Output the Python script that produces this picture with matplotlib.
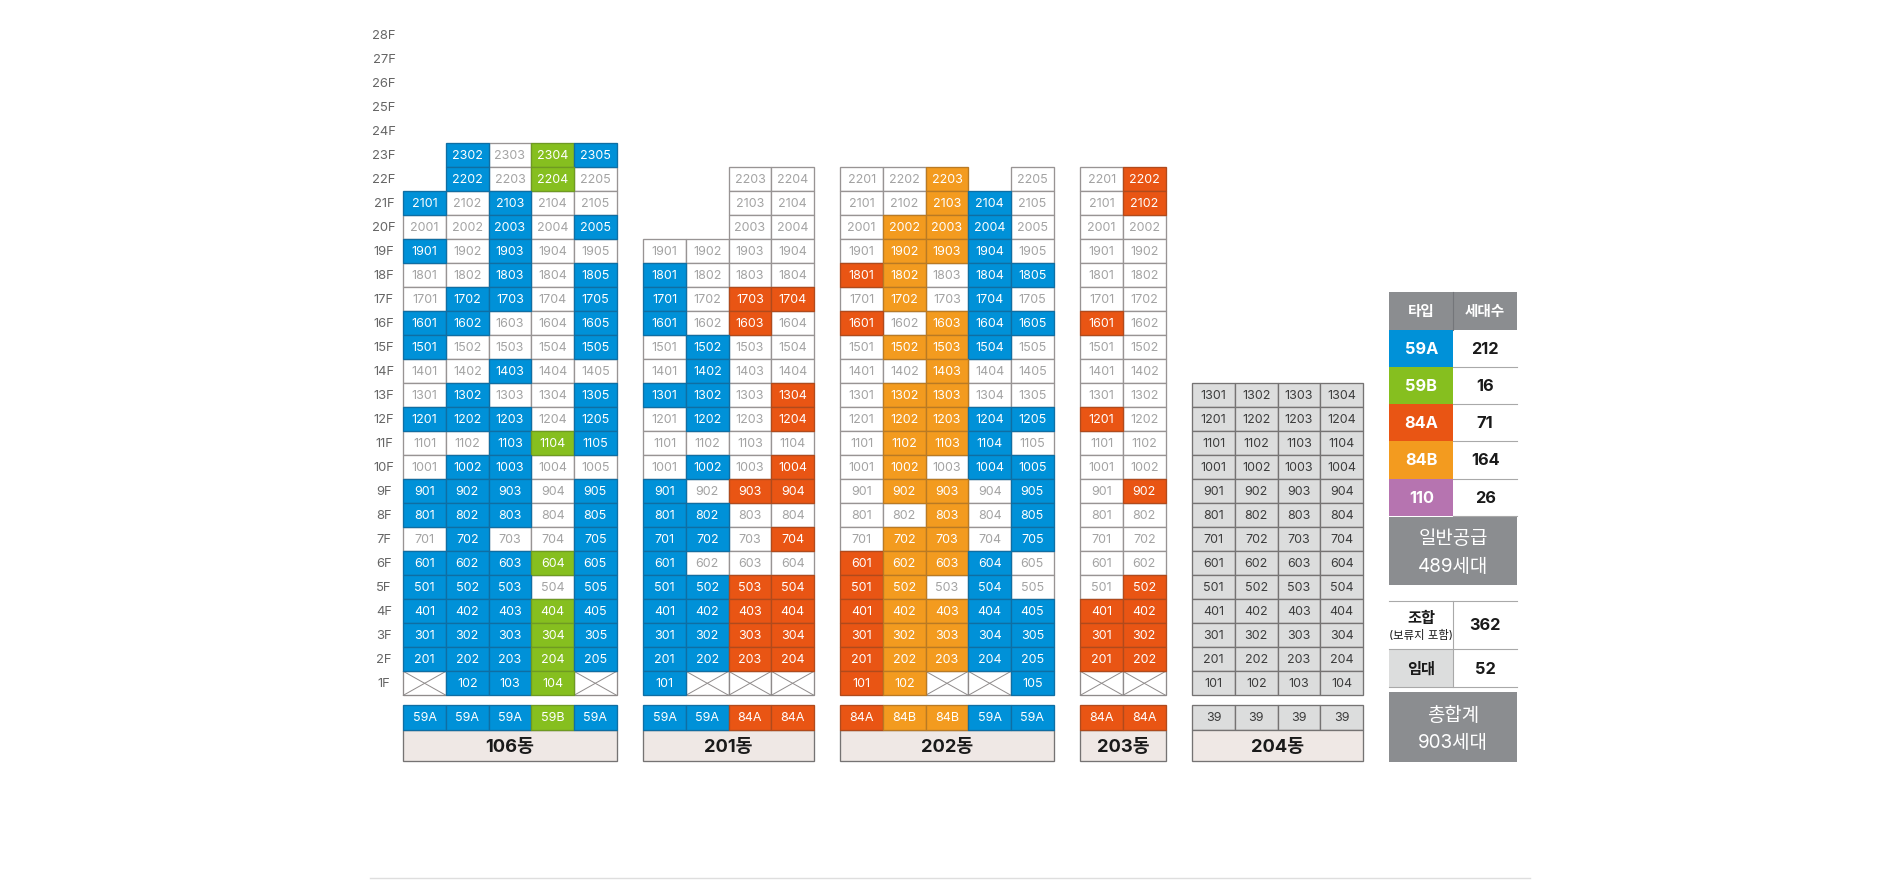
import matplotlib
matplotlib.use('Agg')
import matplotlib.pyplot as plt
from matplotlib.patches import Rectangle

plt.rcParams['font.family'] = ['Inter', 'Noto Sans CJK KR', 'DejaVu Sans']

# 타입 코드: A=59A B=59B C=84A D=84B w=미분양(흰칸) x=없음(X표시) .=빈칸 g=회색
colors = {'A': '#0091d8', 'B': '#86bf1f', 'C': '#e95514', 'D': '#f39b1f', 'w': '#ffffff', 'x': '#ffffff', 'g': '#dcdddd'}
edges = {'A': '#0f6ea3', 'B': '#6f9a22', 'C': '#b04a1c', 'D': '#b97a24', 'w': '#989494', 'x': '#8f8b8b', 'g': '#757373'}

floors = list(range(28, 0, -1))

b106 = ['.AwBA', '.AwBw', 'AwAww', 'wwAwA', 'AwAww', 'wwAwA', 'wAAwA', 'AAwwA',
        'AwwwA', 'wwAww', 'wAwwA', 'AAAwA', 'wwABA', 'wAAww', 'AAAwA', 'AAAwA',
        'wAwwA', 'AAABA', 'AAAwA', 'AAABA', 'AAABA', 'AAABA', 'xAABx']
b201 = ['..ww', '..ww', '..ww', 'wwww', 'Awww', 'AwCC', 'AwCw', 'wAww', 'wAww', 'AAwC', 'wAwC',
        'wwww', 'wAwC', 'AwCC', 'AAww', 'AAwC', 'Awww', 'AACC', 'AACC', 'AACC', 'AACC', 'Axxx']
b202 = ['wwD.w', 'wwDAw', 'wDDAw', 'wDDAw', 'CDwAA', 'wDwAw', 'CwDAA', 'wDDAw', 'wwDww', 'wDDww', 'wDDAA',
        'wDDAw', 'wDwAA', 'wDDwA', 'wwDwA', 'wDDwA', 'CDDAw', 'CDwAw', 'CDDAA', 'CDDAA', 'CDDAA', 'CDxxA']
b203 = ['wC', 'wC', 'ww', 'ww', 'ww', 'ww', 'Cw', 'ww', 'ww', 'ww', 'Cw',
        'ww', 'ww', 'wC', 'ww', 'ww', 'ww', 'wC', 'CC', 'CC', 'CC', 'xx']
b204 = ['gggg'] * 13

names = ['106동', '201동', '202동', '203동', '204동']
grids = [b106, b201, b202, b203, b204]
types = [['59A', '59A', '59A', '59B', '59A'],
         ['59A', '59A', '84A', '84A'],
         ['84A', '84B', '84B', '59A', '59A'],
         ['84A', '84A'],
         ['39', '39', '39', '39']]
type_codes = ['AAABA', 'AACC', 'CDDAA', 'CC', 'gggg']

legend_types = ['59A', '59B', '84A', '84B', '110']
legend_counts = [212, 16, 71, 164, 26]
legend_colors = ['#0091d8', '#86bf1f', '#e95514', '#f39b1f', '#b674b0']

# 레이아웃 (픽셀)
left_x = [403.3, 643.3, 840.3, 1080.3, 1192.3]
cell_w = 42.67
cell_h = 24.0
y_1f_bottom = 695.3
GREY = '#8b8d90'
DARK = '#1a1a1a'

fig = plt.figure(figsize=(18.98, 8.84), dpi=100)
ax = fig.add_axes([0, 0, 1, 1])
ax.set_xlim(0, 1898)
ax.set_ylim(884, 0)
ax.axis('off')


def cell(x, y, w, h, code, txt=None, size=9.0):
    z = 1 if code in 'wxg' else 2
    ax.add_patch(Rectangle((x, y), w, h, fc=colors[code], ec=edges[code], lw=0.95, zorder=z))
    if code == 'x':
        ax.plot([x, x + w], [y, y + h], color=edges['x'], lw=0.7, zorder=1.5)
        ax.plot([x, x + w], [y + h, y], color=edges['x'], lw=0.7, zorder=1.5)
    if txt is not None:
        col = {'w': '#a3a3a3', 'g': '#3c3c3c'}.get(code, 'white')
        ax.text(x + w / 2, y + h / 2 + 0.3, txt, color=col, fontsize=size, ha='center', va='center', zorder=3)


# 층 라벨
for f in floors:
    ax.text(384, y_1f_bottom - (f - 0.5) * cell_h + 1, '%dF' % f, color='#666666', fontsize=9.4,
            ha='center', va='center')

# 동별 그리드
for name, grid, tp, tc, x0 in zip(names, grids, types, type_codes, left_x):
    n = len(grid)
    for i, row in enumerate(grid):
        floor = n - i
        y = y_1f_bottom - floor * cell_h
        for j, code in enumerate(row):
            if code == '.':
                continue
            x = x0 + j * cell_w
            txt = None if code == 'x' else str(floor * 100 + j + 1)
            cell(x, y, cell_w, cell_h, code, txt)
    # 타입 줄
    for j, t in enumerate(tp):
        cell(x0 + j * cell_w, 705.3, cell_w, 24.4, tc[j], t)
    w = cell_w * len(tp)
    ax.add_patch(Rectangle((x0, 729.7), w, 31.6, fc='#efe8e5', ec='#757373', lw=0.95, zorder=1))
    ax.text(x0 + w / 2, 748, name, color=DARK, fontsize=13.2, fontweight='bold',
            ha='center', va='center', zorder=3)

# 오른쪽 합계표
lx0, lx1, lx2 = 1389.3, 1453.3, 1517.0
ax.add_patch(Rectangle((lx0, 292.3), lx2 - lx0, 37.4, fc=GREY, ec='none'))
ax.plot([lx1, lx1], [292.3, 329.7], color='#74767a', lw=0.8)
ax.text((lx0 + lx1) / 2, 312, '타입', color='white', fontsize=10.5, fontweight='bold', ha='center', va='center')
ax.text((lx1 + lx2) / 2, 312, '세대수', color='white', fontsize=10.5, fontweight='bold', ha='center', va='center')

row_h = 37.2
for i, (t, c, col) in enumerate(zip(legend_types, legend_counts, legend_colors)):
    y = 329.7 + i * row_h
    ax.add_patch(Rectangle((lx0, y), lx1 - lx0, row_h, fc=col, ec='none'))
    ax.plot([lx1, lx2], [y + row_h, y + row_h], color='#a9a9a9', lw=0.8)
    ax.text((lx0 + lx1) / 2, y + row_h / 2 + 1, t, color='white', fontsize=11.8, fontweight='bold',
            ha='center', va='center')
    ax.text((lx1 + lx2) / 2, y + row_h / 2 + 1, str(c), color=DARK, fontsize=11.8, fontweight='bold',
            ha='center', va='center')

ax.add_patch(Rectangle((lx0, 517), lx2 - lx0, 68, fc=GREY, ec='none'))
ax.text((lx0 + lx2) / 2, 539.5, '일반공급', color='white', fontsize=13.6, ha='center', va='center')
ax.text((lx0 + lx2) / 2, 566.5, '489세대', color='white', fontsize=13.6, ha='center', va='center')

ax.plot([lx0, lx2], [601.3, 601.3], color='#a9a9a9', lw=0.8)
ax.plot([lx0, lx2], [649.3, 649.3], color='#a9a9a9', lw=0.8)
ax.plot([lx0, lx2], [686.7, 686.7], color='#a9a9a9', lw=0.8)
ax.add_patch(Rectangle((lx0, 649.3), lx1 - lx0, 37.4, fc='#dcdddd', ec='none'))
ax.plot([lx1, lx1], [601.3, 686.7], color='#a9a9a9', lw=0.8)
ax.text((lx0 + lx1) / 2, 619, '조합', color=DARK, fontsize=11, fontweight='bold', ha='center', va='center')
ax.text((lx0 + lx1) / 2, 635, '(보류지 포함)', color=DARK, fontsize=8.2, ha='center', va='center')
ax.text((lx1 + lx2) / 2, 626, '362', color=DARK, fontsize=11.8, fontweight='bold', ha='center', va='center')
ax.text((lx0 + lx1) / 2, 669, '임대', color=DARK, fontsize=11, fontweight='bold', ha='center', va='center')
ax.text((lx1 + lx2) / 2, 669, '52', color=DARK, fontsize=11.8, fontweight='bold', ha='center', va='center')

ax.add_patch(Rectangle((lx0, 692.3), lx2 - lx0, 69.4, fc=GREY, ec='none'))
ax.text((lx0 + lx2) / 2, 716, '총합계', color='white', fontsize=13.6, ha='center', va='center')
ax.text((lx0 + lx2) / 2, 743, '903세대', color='white', fontsize=13.6, ha='center', va='center')

# 아래 구분선
ax.plot([370, 1530], [878, 878], color='#dedede', lw=1)

fig.savefig('out.png', dpi=100, facecolor='white')
